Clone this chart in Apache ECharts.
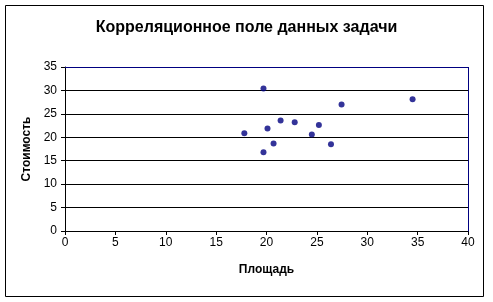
<!DOCTYPE html>
<html><head><meta charset="utf-8">
<script src="https://cdn.jsdelivr.net/npm/echarts@6/dist/echarts.min.js"></script>
<style>html,body{margin:0;padding:0;background:#fff}#c{width:493px;height:302px}</style>
</head><body><div id="c"></div>
<script>
const title = 'Корреляционное поле данных задачи';
const xName = 'Площадь';
const yName = 'Стоимость';
const area = [19.7, 17.8, 20.1, 21.4, 22.8, 25.2, 24.5, 20.7, 19.7, 26.4, 27.45, 34.5];
const cost = [30.4, 20.85, 21.9, 23.6, 23.2, 22.6, 20.6, 18.7, 16.8, 18.5, 27.0, 28.1];
const points = area.map((x, i) => [x, cost[i]]);

const chart = echarts.init(document.getElementById('c'), null, {renderer: 'canvas'});
const font = 'Liberation Sans, Arial, sans-serif';
chart.setOption({
  animation: false,
  backgroundColor: '#fff',
  title: {
    text: title, left: 'center', top: 15,
    textStyle: {fontFamily: font, fontSize: 16, fontWeight: 'bold', color: '#000'}
  },
  graphic: [{
    type: 'rect', shape: {x: 5.5, y: 5.5, width: 478, height: 291},
    style: {fill: 'none', stroke: '#000', lineWidth: 1}, silent: true, z: -1
  }, {
    type: 'line', shape: {x1: 65, y1: 67.5, x2: 468.5, y2: 67.5},
    style: {stroke: '#000080', lineWidth: 1}, z: 10
  }, {
    type: 'line', shape: {x1: 468.5, y1: 67, x2: 468.5, y2: 231.5},
    style: {stroke: '#000080', lineWidth: 1}, z: 10
  }],
  grid: {left: 65, right: 25, top: 67, bottom: 71, containLabel: false},
  xAxis: {
    type: 'value', min: 0, max: 40, interval: 5,
    name: xName, nameLocation: 'middle', nameGap: 33,
    nameTextStyle: {fontFamily: font, fontSize: 12, fontWeight: 'bold', color: '#000'},
    axisLine: {show: true, lineStyle: {color: '#000', width: 1}},
    axisTick: {show: true, inside: false, length: 4, lineStyle: {color: '#000'}},
    axisLabel: {fontFamily: font, fontSize: 12, color: '#000', margin: 6},
    splitLine: {show: false}
  },
  yAxis: {
    type: 'value', min: 0, max: 35, interval: 5,
    name: yName, nameLocation: 'middle', nameGap: 31, nameRotate: 90,
    nameTextStyle: {fontFamily: font, fontSize: 12, fontWeight: 'bold', color: '#000'},
    axisLine: {show: true, lineStyle: {color: '#000', width: 1}},
    axisTick: {show: true, inside: false, length: 4, lineStyle: {color: '#000'}},
    axisLabel: {fontFamily: font, fontSize: 12, color: '#000', margin: 8},
    splitLine: {show: true, lineStyle: {color: '#000', width: 1}}
  },
  series: [{
    type: 'scatter', data: points, symbol: 'circle', symbolSize: 6,
    itemStyle: {color: '#000080'}, z: 20
  }]
});
</script></body></html>
